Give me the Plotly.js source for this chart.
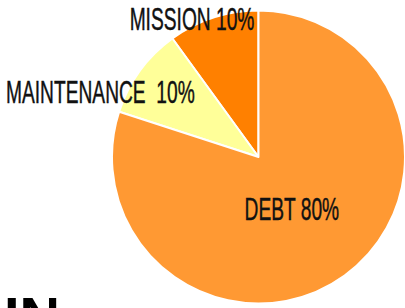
<!DOCTYPE html>
<html>
<head>
<meta charset="utf-8">
<script src="https://cdn.plot.ly/plotly-3.0.1.min.js"></script>
<style>html,body{margin:0;padding:0;background:#fff;}#chart{width:405px;height:308px;}</style>
</head>
<body>
<div id="chart"></div>
<script>
var categories = ["MISSION", "MAINTENANCE", "DEBT"];
var values = [10, 10, 80];
var labelTexts = ["MISSION 10%", "MAINTENANCE  10%", "DEBT 80%"];
var sliceColors = ["#FF8000", "#FFFF99", "#FF9933"];

var trace = {
  type: "pie",
  labels: categories,
  values: values,
  sort: false,
  direction: "counterclockwise",
  rotation: -36,
  textinfo: "none",
  hoverinfo: "label+percent",
  marker: {colors: sliceColors, line: {color: "#ffffff", width: 2}},
  domain: {x: [0.2765, 1], y: [0.013, 0.9675]},
  showlegend: false
};

var labelPos = [[0.4753, 0.9383], [0.249, 0.6997], [0.7198, 0.323]];
var annotations = labelTexts.map(function (t, i) {
  return {text: t, xref: "paper", yref: "paper", x: labelPos[i][0], y: labelPos[i][1],
    xanchor: "center", yanchor: "middle", showarrow: false,
    font: {family: "Liberation Sans", size: 32, color: "#111111"}};
});
annotations.push({text: "<b>IN</b>", xref: "paper", yref: "paper", x: 0.0, y: 0.08,
  xanchor: "left", yanchor: "top", showarrow: false, xshift: 1.5,
  font: {family: "Liberation Sans", size: 56, color: "#000000"}});

var layout = {
  width: 405, height: 308,
  margin: {l: 0, r: 0, t: 0, b: 0},
  paper_bgcolor: "#ffffff",
  annotations: annotations
};

Plotly.newPlot("chart", [trace], layout, {displayModeBar: false, staticPlot: true}).then(function () {
  var texts = document.querySelectorAll(".annotation-text");
  texts.forEach(function (el) {
    if (el.textContent === "IN") return;
    var b = el.getBBox();
    var cx = b.x + b.width / 2;
    el.setAttribute("transform", "translate(" + cx + ",0) scale(0.6,1) translate(" + (-cx) + ",0)");
    el.style.stroke = "#111111";
    el.style.strokeWidth = "0.45px";
  });
});
</script>
</body>
</html>
